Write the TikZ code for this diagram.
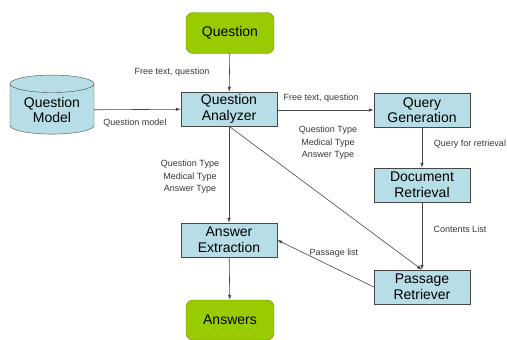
\documentclass[tikz,border=0pt]{standalone}
\usepackage{fontspec}
\setmainfont{Liberation Sans}
\usetikzlibrary{shapes, positioning, arrows, arrows.meta}
\definecolor{boxblue}{RGB}{183,221,230}
\definecolor{boxgreen}{RGB}{153,204,0}
\definecolor{greenline}{RGB}{100,140,0}
\definecolor{linegrey}{RGB}{70,70,70}
\definecolor{labelgrey}{RGB}{55,55,55}

\begin{document}
\begin{tikzpicture}[x=1pt, y=-1pt, >={Latex[length=5pt,width=3.5pt]}]
\useasboundingbox (0,0) rectangle (507,340);
\tikzstyle{module}=[rectangle, draw=linegrey, fill=boxblue, minimum width=96pt, minimum height=34pt, align=center, inner sep=1pt, font=\fontsize{14}{15.5}\selectfont]
\tikzstyle{terminal}=[rectangle, rounded corners=7pt, draw=greenline, fill=boxgreen, minimum width=88pt, minimum height=41pt, font=\fontsize{14}{15.5}\selectfont]
\tikzstyle{store}=[cylinder, shape border rotate=90, shape aspect=0.3, draw=linegrey, fill=boxblue, minimum width=84pt, minimum height=59pt, align=center, inner sep=1pt, font=\fontsize{14}{15.5}\selectfont]
\tikzstyle{flowlabel}=[inner sep=0pt, align=center, text=labelgrey, font=\fontsize{9}{12.5}\selectfont]
\tikzstyle{flow}=[->, draw=linegrey, line width=0.6pt]
%%
\node (q) at (230,33) [terminal] {Question};
\node (qm) at (52,110) [store] {Question\\Model};
\node (qa) at (229,109) [module] {Question\\Analyzer};
\node (qg) at (422,110) [module] {Query\\Generation};
\node (dr) at (422,185) [module] {Document\\Retrieval};
\node (pr) at (422,287) [module] {Passage\\Retriever};
\node (ae) at (229,240) [module] {Answer\\Extraction};
\node (ans) at (230,320) [terminal, minimum height=40pt] {Answers};

\draw [flow] (q) -- (qa);
\draw [flow] (qm) -- (qa);
\draw [flow] (qa.east |- qg.west) -- (qg.west);
\draw [flow] (qg) -- (dr);
\draw [flow] (dr) -- (pr);
\draw [flow] (qa) -- (ae);
\draw [flow] (qa.south) -- (pr.north);
\draw [flow] (pr.west) -- (ae.east);
\draw [flow] (ae) -- (ans);

\node (l1) at (172,72) [flowlabel] {Free text, question};
\node (l2) at (135,123) [flowlabel] {Question model};
\node (l3) at (321,98) [flowlabel] {Free text, question};
\node (l4) at (470,144) [flowlabel] {Query for retrieval};
\node (l5) at (328,143) [flowlabel] {Question Type\\Medical Type\\Answer Type};
\node (l6) at (190,177) [flowlabel] {Question Type\\Medical Type\\Answer Type};
\node (l7) at (460,229) [flowlabel] {Contents List};
\node (l8) at (334,253) [flowlabel] {Passage list};
\end{tikzpicture}
\end{document}
